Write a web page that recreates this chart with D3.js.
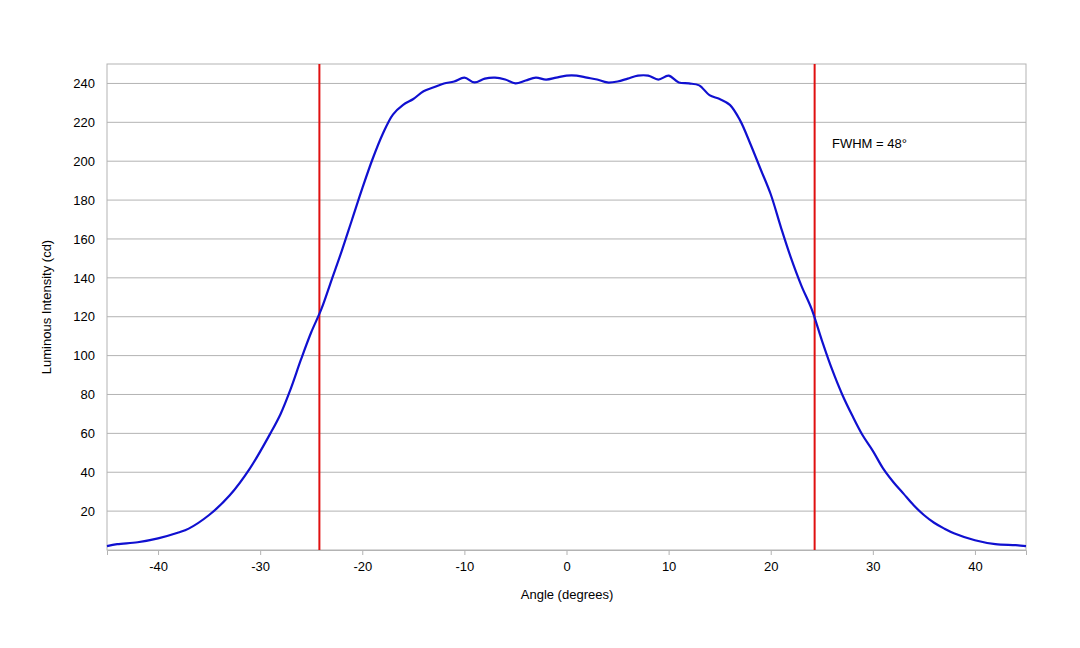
<!DOCTYPE html>
<html><head><meta charset="utf-8">
<script src="https://cdn.jsdelivr.net/npm/d3@7"></script>
<style>body{margin:0;background:#fff}text{font-family:"Liberation Sans",Arial,sans-serif}</style>
</head><body><svg id="c" width="1080" height="648"></svg>
<script>
const angles=[-45,-44,-42,-40,-38,-37,-35,-33,-31,-29,-28,-27,-26,-25,-24,-23,-22,-21,-20,-19,-18,-17,-16,-15,-14,-13,-12,-11,-10,-9,-8,-7,-6,-5,-4,-3,-2,-1,0,1,2,3,4,5,6,7,8,9,10,11,12,13,14,15,16,17,18,19,20,21,22,23,24,25,26,27,28,29,30,31,32,33,34,35,36,37,38,40,42,44,45];
const intensity=[2,3,4,6,9,11,18,28,42,60,70,83,98,112,124,139,154,170,186,201,214,224,229,232,236,238,240,241,243,240.5,242.5,243,242,240,241.5,243,242,243,244,244,243,242,240.5,241,242.5,244,244,242,244,240.5,240,239,234,232,229,221,209,196,183,166,150,136,124,108,93,80,69,59,51,42,35,29,23,18,14,11,8.5,5,3,2.5,2];
const fwhmLines=[-24.2,24.3];
const xTicks=[-40,-30,-20,-10,0,10,20,30,40];
const yTicks=[20,40,60,80,100,120,140,160,180,200,220,240];
const svg=d3.select("#c");
const x=d3.scaleLinear().domain([-45,45]).range([107,1026]);
const y=d3.scaleLinear().domain([0,250]).range([550,64]);
svg.append("g").selectAll("line").data(yTicks).join("line")
 .attr("x1",107).attr("x2",1026).attr("y1",d=>y(d)).attr("y2",d=>y(d)).attr("stroke","#b3b3b3");
svg.append("rect").attr("x",107).attr("y",64).attr("width",919).attr("height",486).attr("fill","none").attr("stroke","#b3b3b3");
const ga=svg.append("g").attr("transform","translate(0,550)").call(d3.axisBottom(x).tickValues(xTicks).tickSize(5).tickFormat(d=>String(d)));
ga.select(".domain").attr("stroke","#b3b3b3");ga.selectAll(".tick line").attr("stroke","#b3b3b3");
ga.selectAll("text").attr("font-size",13).attr("fill","#000").attr("dy","1em");
const gl=svg.append("g").attr("transform","translate(107,0)").call(d3.axisLeft(y).tickValues(yTicks).tickSize(0).tickPadding(12));
gl.select(".domain").remove();gl.selectAll("text").attr("font-size",13).attr("fill","#000");
svg.selectAll(".fw").data(fwhmLines).join("line").attr("x1",d=>x(d)).attr("x2",d=>x(d)).attr("y1",64).attr("y2",550).attr("stroke","#e01010").attr("stroke-width",2);
svg.append("path").datum(angles.map((a,i)=>[a,intensity[i]])).attr("fill","none").attr("stroke","#1010d0").attr("stroke-width",2.2)
 .attr("d",d3.line().x(d=>x(d[0])).y(d=>y(d[1])).curve(d3.curveCatmullRom));
svg.append("text").attr("x",832).attr("y",148).attr("font-size",13).text("FWHM = 48°");
svg.append("text").attr("x",567).attr("y",599).attr("text-anchor","middle").attr("font-size",13).text("Angle (degrees)");
svg.append("text").attr("transform","translate(51,307) rotate(-90)").attr("text-anchor","middle").attr("font-size",13).text("Luminous Intensity (cd)");
</script></body></html>
